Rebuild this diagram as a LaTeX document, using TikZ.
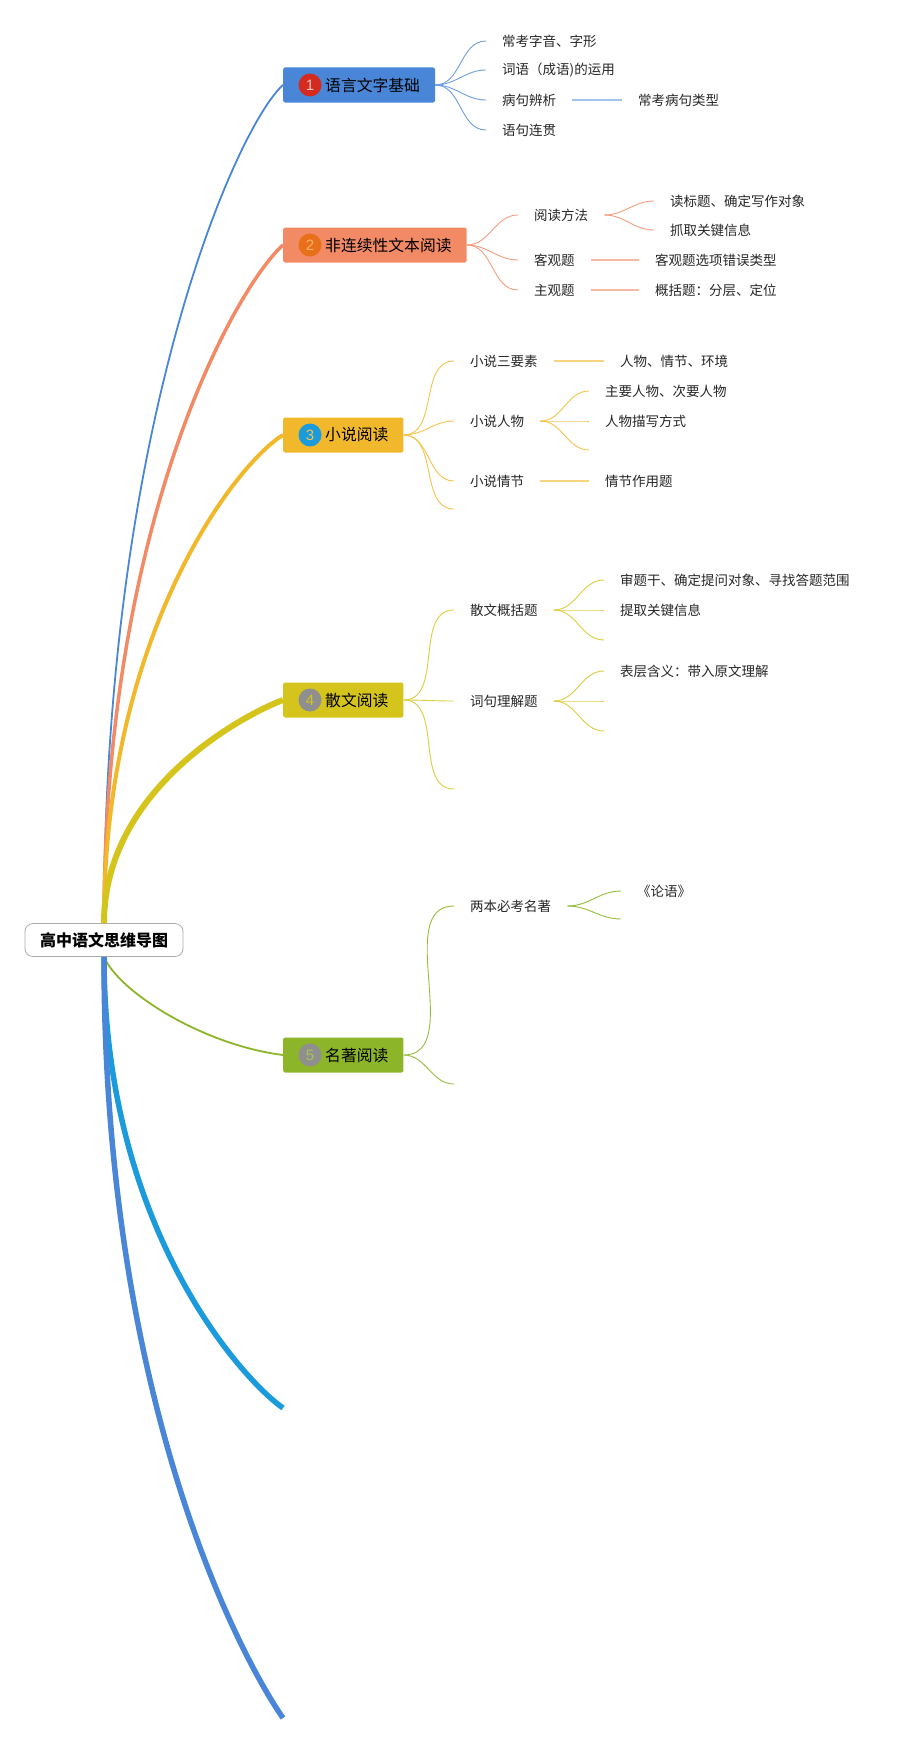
\documentclass[tikz,border=0pt]{standalone}
\usepackage{fontspec}
\setmainfont{Noto Sans CJK SC}
\newfontfamily\numfont{Liberation Sans}
\usetikzlibrary{positioning}

\definecolor{bluea}{HTML}{4A86D8}
\definecolor{salmon}{HTML}{F28A66}
\definecolor{gold}{HTML}{F2B82B}
\definecolor{olive}{HTML}{D5C41C}
\definecolor{grass}{HTML}{8CB52A}
\definecolor{skyb}{HTML}{1B9BDB}
\definecolor{dotred}{HTML}{D52B1E}
\definecolor{dotorange}{HTML}{E8701A}
\definecolor{dotgrey}{HTML}{8F8F8F}

\tikzset{
  rootbox/.style={draw=gray!65, fill=white, rounded corners=8pt, line width=0.8pt,
    minimum height=33pt, inner xsep=15pt, font=\fontsize{16}{18}\selectfont\bfseries},
  branch/.style={anchor=west, rounded corners=2pt, minimum height=35pt, inner xsep=15pt,
    font=\fontsize{15.8}{18}\selectfont, text=black},
  numdot/.style={circle, minimum size=23pt, inner sep=0pt, font=\numfont\fontsize{15}{16}\selectfont},
  leaf/.style={anchor=west, inner xsep=16pt, inner ysep=3pt, font=\fontsize{13.5}{16}\selectfont, text=black!85},
  fan/.style={line width=0.9pt},
  bar/.style={line width=1.4pt},
}

\begin{document}
\begin{tikzpicture}[x=1pt, y=-1pt, line join=round]
\useasboundingbox (0,0) rectangle (917,1745);

\node[rootbox] (root) at (104,940) {高中语文思维导图};

% main topics
\node[branch, fill=bluea] (b1) at (283,85) {\hspace*{27pt}语言文字基础};
\node[branch, fill=salmon] (b2) at (283,245) {\hspace*{27pt}非连续性文本阅读};
\node[branch, fill=gold] (b3) at (283,435) {\hspace*{27pt}小说阅读};
\node[branch, fill=olive] (b4) at (283,700) {\hspace*{27pt}散文阅读};
\node[branch, fill=grass] (b5) at (283,1055) {\hspace*{27pt}名著阅读};
\node[numdot, fill=dotred, text=red!25] (d1) at ([xshift=27pt]b1.west) {1};
\node[numdot, fill=dotorange, text=orange!60] (d2) at ([xshift=27pt]b2.west) {2};
\node[numdot, fill=skyb, text=gold!85] (d3) at ([xshift=27pt]b3.west) {3};
\node[numdot, fill=dotgrey, text=olive] (d4) at ([xshift=27pt]b4.west) {4};
\node[numdot, fill=dotgrey, text=grass!80] (d5) at ([xshift=27pt]b5.west) {5};
\coordinate (e6) at (283,1408);
\coordinate (e7) at (283,1718);

\draw[bluea, line width=1.8pt] (root.north) .. controls +(0,-503) and +(-45,40) .. (b1.west);
\draw[salmon, line width=3.5pt] (root.north) .. controls +(0,-407) and +(-45,40) .. (b2.west);
\draw[gold, line width=4pt] (root.north) .. controls +(0,-293) and +(-45,27) .. (b3.west);
\draw[olive, line width=6pt] (root.north) .. controls +(0,-134) and +(-40,15) .. (b4.west);
\draw[grass, line width=1.8pt] (root.south) .. controls +(15,35) and +(-80,-10) .. (b5.west);
\draw[skyb, line width=5.5pt] (root.south) .. controls +(0,272) and +(-40,-28) .. (e6);
\draw[bluea, line width=5.5pt] (root.south) .. controls +(0,458) and +(-35,-50) .. (e7);

% 语言文字基础
\node[leaf] (c11) at (486,41) {常考字音、字形};
\node[leaf] (c12) at (486,70) {词语（成语)的运用};
\node[leaf] (c13) at (486,100) {病句辨析};
\node[leaf] (c14) at (486,130) {语句连贯};
\node[leaf] (c131) at (622,100) {常考病句类型};
\foreach \k in {c11,c12,c13,c14}
  \draw[fan, bluea!80] (b1.east) to[out=0, in=180] (\k.west);
\draw[bar, bluea!50] (c13) -- (c131);

% 非连续性文本阅读
\node[leaf] (c21) at (518,215) {阅读方法};
\node[leaf] (c22) at (518,260) {客观题};
\node[leaf] (c23) at (518,290) {主观题};
\node[leaf] (c211) at (654,201) {读标题、确定写作对象};
\node[leaf] (c212) at (654,230) {抓取关键信息};
\node[leaf] (c221) at (639,260) {客观题选项错误类型};
\node[leaf] (c231) at (639,290) {概括题：分层、定位};
\foreach \k in {c21,c22,c23}
  \draw[fan, salmon!85] (b2.east) to[out=0, in=180] (\k.west);
\foreach \k in {c211,c212}
  \draw[fan, salmon!85] (c21.east) to[out=0, in=180] (\k.west);
\draw[bar, salmon!60] (c22) -- (c221);
\draw[bar, salmon!60] (c23) -- (c231);

% 小说阅读
\node[leaf] (c31) at (454,361) {小说三要素};
\node[leaf] (c32) at (454,421) {小说人物};
\node[leaf] (c33) at (454,481) {小说情节};
\coordinate (e34) at (454,509);
\node[leaf] (c311) at (604,361) {人物、情节、环境};
\node[leaf] (c321) at (589,391) {主要人物、次要人物};
\node[leaf] (c322) at (589,421) {人物描写方式};
\coordinate (e323) at (589,450);
\node[leaf] (c331) at (589,481) {情节作用题};
\foreach \k in {c31.west,c32.west,c33.west,e34}
  \draw[fan, gold!85] (b3.east) to[out=0, in=180] (\k);
\foreach \k in {c321.west,c322.west,e323}
  \draw[fan, gold!85] (c32.east) to[out=0, in=180] (\k);
\draw[bar, gold!60] (c31) -- (c311);
\draw[bar, gold!60] (c33) -- (c331);

% 散文阅读
\node[leaf] (c41) at (454,610) {散文概括题};
\node[leaf] (c42) at (454,701) {词句理解题};
\coordinate (e43) at (454,789);
\node[leaf] (c411) at (604,580) {审题干、确定提问对象、寻找答题范围};
\node[leaf] (c412) at (604,610) {提取关键信息};
\coordinate (e413) at (604,640);
\node[leaf] (c421) at (604,671) {表层含义：带入原文理解};
\coordinate (e422) at (604,701);
\coordinate (e423) at (604,731);
\foreach \k in {c41.west,c42.west,e43}
  \draw[fan, olive!85] (b4.east) to[out=0, in=180] (\k);
\foreach \k in {c411.west,c412.west,e413}
  \draw[fan, olive!85] (c41.east) to[out=0, in=180] (\k);
\foreach \k in {c421.west,e422,e423}
  \draw[fan, olive!85] (c42.east) to[out=0, in=180] (\k);

% 名著阅读
\node[leaf] (c51) at (454,906) {两本必考名著};
\coordinate (e52) at (454,1084);
\node[leaf] (c511) at (621,891) {《论语》};
\coordinate (e512) at (621,919);
\foreach \k in {c51.west,e52}
  \draw[fan, grass!90] (b5.east) to[out=0, in=180] (\k);
\foreach \k in {c511.west,e512}
  \draw[fan, grass!90] (c51.east) to[out=0, in=180] (\k);
\end{tikzpicture}
\end{document}
